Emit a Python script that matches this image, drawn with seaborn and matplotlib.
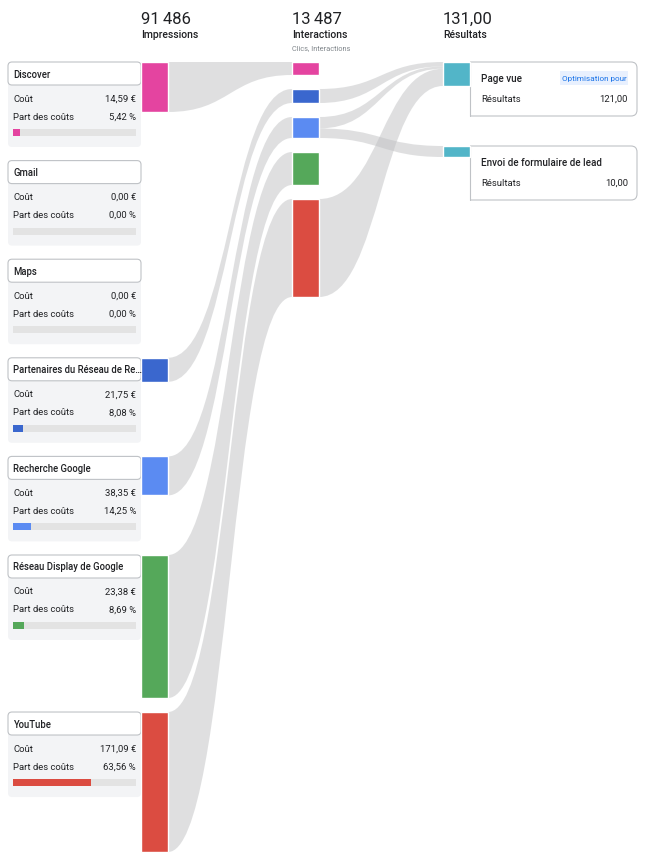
import matplotlib

matplotlib.use("Agg")
import matplotlib.pyplot as plt
import seaborn as sns
from matplotlib.patches import FancyBboxPatch, PathPatch, Rectangle
from matplotlib.path import Path

# ---- data -------------------------------------------------------------
channels = [
    "Discover",
    "Gmail",
    "Maps",
    "Partenaires du Réseau de Re…",
    "Recherche Google",
    "Réseau Display de Google",
    "YouTube",
]
channel_colors = ["#E444A0", "#E444A0", "#E444A0", "#3A67CE", "#5B8BF2", "#55A85A", "#DB4C41"]
costs = [14.59, 0.00, 0.00, 21.75, 38.35, 23.38, 171.09]
cost_shares = [5.42, 0.00, 0.00, 8.08, 14.25, 8.69, 63.56]
impressions = [11550, 0, 0, 5540, 9010, 33040, 32346]
interactions = [980, 0, 0, 1055, 1582, 2486, 7384]

result_names = ["Page vue", "Envoi de formulaire de lead"]
results = [121.00, 10.00]
conv_source = ["Partenaires du Réseau de Re…", "Recherche Google", "YouTube", "Recherche Google"]
conv_target = ["Page vue", "Page vue", "Page vue", "Envoi de formulaire de lead"]
conv_values = [22, 12, 87, 10]

# ---- layout -----------------------------------------------------------
TOP = 63
X_IMP, X_INT, X_RES, BAR_W = 141, 292, 443, 27
CARD_X, CARD_W, CARD_H, CARD_STEP, GAP = 8, 133, 85, 98.6, 14
K_IMP = 396 / sum(impressions)
K_INT = 179 / sum(interactions)
K_RES = 24 / 121
FLOW_COLOR = "#C0C1C3"
TEXT = "#202124"
GREY_TEXT = "#80868B"


def fr(v, unit=""):
    s = f"{v:,.2f}".replace(",", " ").replace(".", ",")
    return s + unit


def fr_int(v):
    return f"{v:,}".replace(",", "\u202f")


def flow(ax, x0, a0, a1, x1, b0, b1):
    xm = (x0 + x1) / 2
    verts = [(x0, a0), (xm, a0), (xm, b0), (x1, b0), (x1, b1), (xm, b1), (xm, a1), (x0, a1), (x0, a0)]
    codes = [Path.MOVETO, Path.CURVE4, Path.CURVE4, Path.CURVE4, Path.LINETO,
             Path.CURVE4, Path.CURVE4, Path.CURVE4, Path.CLOSEPOLY]
    ax.add_patch(PathPatch(Path(verts, codes), facecolor=FLOW_COLOR, edgecolor="none", alpha=0.5, zorder=1))


sns.set_theme(style="white")
plt.rcParams["font.family"] = ["Roboto", "DejaVu Sans"]

fig = plt.figure(figsize=(6.5, 8.62), dpi=100)
ax = fig.add_axes([0, 0, 1, 1])
ax.set_xlim(0, 650)
ax.set_ylim(862, 0)
ax.axis("off")

# column headers
for x, val, label in [
    (X_IMP, fr_int(sum(impressions)), "Impressions"),
    (X_INT, fr_int(sum(interactions)), "Interactions"),
    (X_RES, fr(sum(results)), "Résultats"),
]:
    ax.text(x, 19, val, fontsize=12, color=TEXT, va="center", ha="left")
    ax.text(x, 35, label, fontsize=7.5, color=TEXT, va="center", ha="left", fontweight="medium")
ax.text(X_INT, 49, "Clics, Interactions", fontsize=5.3, color=GREY_TEXT, va="center", ha="left")

# left column: cards + impression bars
imp_pos = {}
top = TOP
for name, col, cost, share, imp in zip(channels, channel_colors, costs, cost_shares, impressions):
    h = imp * K_IMP
    body = FancyBboxPatch((CARD_X, top + 10), CARD_W, CARD_H - 10,
                          boxstyle="round,pad=0,rounding_size=4", facecolor="#F3F4F6", edgecolor="none", zorder=2)
    ax.add_patch(body)
    head = FancyBboxPatch((CARD_X, top), CARD_W, 23, boxstyle="round,pad=0,rounding_size=4",
                          facecolor="white", edgecolor="#BFC2C6", linewidth=0.8, zorder=3)
    ax.add_patch(head)
    ax.text(CARD_X + 5, top + 11.5, name, fontsize=6.85, color=TEXT, va="center", ha="left", zorder=7,
            fontweight="medium")
    ax.text(CARD_X + 5, top + 36, "Coût", fontsize=6.8, color=TEXT, va="center", zorder=4)
    ax.text(136, top + 36, fr(cost, " €"), fontsize=6.8, color=TEXT, va="center", ha="right", zorder=4)
    ax.text(CARD_X + 5, top + 54, "Part des coûts", fontsize=6.8, color=TEXT, va="center", zorder=4)
    ax.text(136, top + 54, fr(share, " %"), fontsize=6.8, color=TEXT, va="center", ha="right", zorder=4)
    ax.add_patch(Rectangle((13, top + 67), 123, 7, facecolor="#E3E3E3", edgecolor="none", zorder=4))
    if share > 0:
        ax.add_patch(Rectangle((13, top + 67), 123 * share / 100, 7, facecolor=col, edgecolor="none", zorder=5))
    if imp > 0:
        ax.bar(X_IMP, h, bottom=top, width=BAR_W, align="edge", color=col, zorder=6)
        imp_pos[name] = (top, top + h)
    top = max(top + CARD_STEP, top + h + GAP)

# middle column: interaction bars
int_pos = {}
top = TOP
for name, col, n in zip(channels, channel_colors, interactions):
    if n == 0:
        continue
    h = n * K_INT
    ax.bar(X_INT, h, bottom=top, width=BAR_W, align="edge", color=col, zorder=6)
    int_pos[name] = (top, top + h)
    top += h + GAP

for name in int_pos:
    a0, a1 = imp_pos[name]
    b0, b1 = int_pos[name]
    flow(ax, X_IMP + BAR_W, a0, a1, X_INT, b0, b1)

# right column: result bars + cards
res_pos = {}
top = TOP
for name, val in zip(result_names, results):
    h = max(11, val * K_RES)
    ax.add_patch(FancyBboxPatch((X_RES + BAR_W - 6, top), 637 - X_RES - BAR_W + 6, 54,
                                boxstyle="round,pad=0,rounding_size=6", facecolor="white",
                                edgecolor="#BFC2C6", linewidth=0.8, zorder=2))
    ax.add_patch(Rectangle((X_RES + BAR_W - 7, top - 1), 7, 56, facecolor="white", edgecolor="none", zorder=2.5))
    ax.plot([X_RES + BAR_W, X_RES + BAR_W], [top, top + 54], color="#BFC2C6", lw=0.8, zorder=2.6)
    ax.bar(X_RES, h, bottom=top, width=BAR_W, align="edge", color="#52B5C8", zorder=6)
    ax.text(481, top + 16, name, fontsize=7.1, color=TEXT, va="center", ha="left", fontweight="medium", zorder=4)
    ax.text(481, top + 36, "Résultats", fontsize=6.8, color=TEXT, va="center", ha="left", zorder=4)
    ax.text(628, top + 36, fr(val), fontsize=6.8, color=TEXT, va="center", ha="right", zorder=4)
    res_pos[name] = (top, top + h)
    top += 84

ax.add_patch(Rectangle((560, TOP + 9), 68, 14, facecolor="#E8F0FE", edgecolor="none", zorder=3))
ax.text(594, TOP + 16, "Optimisation pour", fontsize=5.9, color="#1A73E8", va="center", ha="center", zorder=4)

# middle -> results flows
src_total = {}
for s, v in zip(conv_source, conv_values):
    src_total[s] = src_total.get(s, 0) + v
src_cursor = {s: int_pos[s][0] for s in src_total}
tgt_cursor = {t: res_pos[t][0] for t in result_names}
order = sorted(range(len(conv_values)), key=lambda i: (channels.index(conv_source[i]), result_names.index(conv_target[i])))
for i in order:
    s, t, v = conv_source[i], conv_target[i], conv_values[i]
    s0, s1 = int_pos[s]
    t0, t1 = res_pos[t]
    t_total = results[result_names.index(t)]
    sh = (s1 - s0) * v / src_total[s]
    th = (t1 - t0) * v / t_total
    a0 = src_cursor[s]
    b0 = tgt_cursor[t]
    flow(ax, X_INT + BAR_W, a0, a0 + sh, X_RES, b0, b0 + th)
    src_cursor[s] += sh
    tgt_cursor[t] += th

fig.savefig("out.png", dpi=100)
